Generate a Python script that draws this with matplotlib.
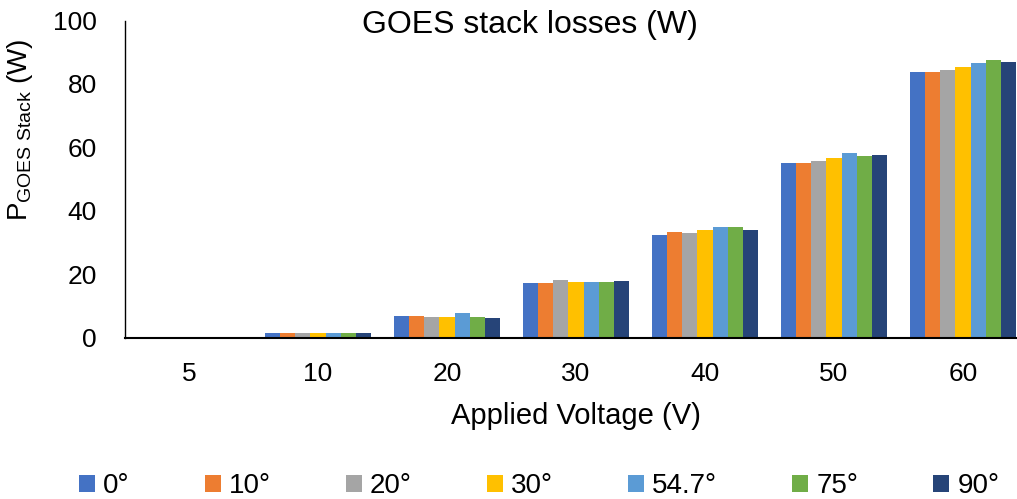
import matplotlib
matplotlib.use("Agg")
import matplotlib.pyplot as plt
import numpy as np

plt.rcParams['font.family'] = ['Liberation Sans', 'DejaVu Sans']
plt.rcParams['mathtext.fontset'] = 'custom'
plt.rcParams['mathtext.rm'] = 'Liberation Sans'
plt.rcParams['mathtext.it'] = 'Liberation Sans'

categories = ['5', '10', '20', '30', '40', '50', '60']
series_labels = ['0°', '10°', '20°', '30°', '54.7°', '75°', '90°']
values = {
    '0°':    [0.0, 1.3, 6.8, 17.1, 32.2, 54.9, 83.8],
    '10°':   [0.0, 1.3, 6.8, 17.1, 33.2, 54.9, 83.7],
    '20°':   [0.0, 1.3, 6.6, 18.0, 33.0, 55.7, 84.4],
    '30°':   [0.0, 1.3, 6.4, 17.6, 34.0, 56.5, 85.2],
    '54.7°': [0.0, 1.3, 7.6, 17.6, 35.0, 58.2, 86.7],
    '75°':   [0.0, 1.3, 6.4, 17.6, 34.8, 57.3, 87.5],
    '90°':   [0.0, 1.3, 6.3, 17.8, 34.0, 57.5, 86.9],
}
colors = ['#4472C4', '#ED7D31', '#A5A5A5', '#FFC000', '#5B9BD5', '#70AD47', '#264478']

W, H = 1017, 499
fig = plt.figure(figsize=(W/100, H/100), dpi=100)
ax = fig.add_axes([124.5/W, 1-337.5/H, 903/W, 317/H])

x = np.arange(len(categories))
w = 0.118
n = len(series_labels)
for i, (lab, c) in enumerate(zip(series_labels, colors)):
    ax.bar(x + (i - (n-1)/2)*w, values[lab], width=w, color=c, label=lab, linewidth=0)

ax.set_xlim(-0.5, len(categories)-0.5)
ax.set_ylim(0, 100)
ax.set_yticks([0, 20, 40, 60, 80, 100])
ax.set_xticks(x)
ax.set_xticklabels(categories)
ax.tick_params(axis='both', length=0, labelsize=19)
ax.tick_params(axis='x', pad=17.5)
ax.tick_params(axis='y', pad=19.8)
for s in ['top', 'right']:
    ax.spines[s].set_visible(False)
ax.spines['left'].set_color('black')
ax.spines['bottom'].set_color('black')
ax.spines['left'].set_linewidth(1.0)
ax.spines['bottom'].set_linewidth(1.5)

fig.text(576/W, 1-424/H, 'Applied Voltage (V)', fontsize=21, ha='center', va='baseline')
fig.text(20/W, 1-130/H, r'P$_{\mathrm{GOES\ Stack}}$ (W)', fontsize=20,
         ha='center', va='center', rotation=90)
fig.text(529.5/W, 1-33/H, 'GOES stack losses (W)', fontsize=23, ha='center', va='baseline')

leg = fig.legend(loc='center left', bbox_to_anchor=(79/W, 1-486/H), ncol=7, frameon=False,
                 fontsize=20, handlelength=0.58, handleheight=0.58, handletextpad=0.29,
                 columnspacing=2.7, borderpad=0, borderaxespad=0)

fig.savefig('out.png', dpi=100)
